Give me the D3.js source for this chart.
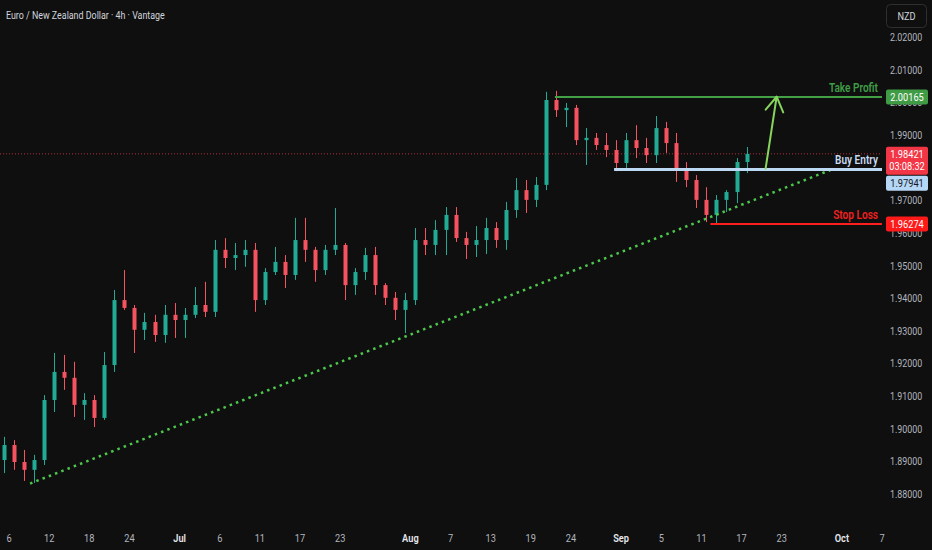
<!DOCTYPE html>
<html>
<head>
<meta charset="utf-8">
<script src="https://cdn.jsdelivr.net/npm/d3@7"></script>
<style>
html, body { margin: 0; padding: 0; background: #0f0f0f; }
svg { display: block; }
text { font-family: Roboto, "Noto Sans", sans-serif; }
</style>
</head>
<body>
<svg id="chart" width="932" height="550"></svg>
<script>
// one candle per trading day, Jun 5 .. Sep 17 2025 (index 0 = Jun 6)
const dates = ["06-05","06-06","06-09","06-10","06-11","06-12","06-13","06-16","06-17","06-18","06-19","06-20","06-23","06-24","06-25","06-26","06-27","06-30",
  "07-01","07-02","07-03","07-04","07-07","07-08","07-09","07-10","07-11","07-14","07-15","07-16","07-17","07-18","07-21","07-22","07-23","07-24","07-25","07-28","07-29","07-30","07-31",
  "08-01","08-04","08-05","08-06","08-07","08-08","08-11","08-12","08-13","08-14","08-15","08-18","08-19","08-20","08-21","08-22","08-25","08-26","08-27","08-28","08-29",
  "09-01","09-02","09-03","09-04","09-05","09-08","09-09","09-10","09-11","09-12","09-15","09-16","09-17"];

const open  = [1.8904,1.8950,1.8898,1.8874,1.8904,1.9088,1.9174,1.9156,1.9073,1.9088,1.9033,1.9195,1.9394,1.9370,1.9303,1.9327,1.9287,1.9349,
  1.9333,1.9349,1.9379,1.9358,1.9548,1.9523,1.9532,1.9548,1.9394,1.9480,1.9511,1.9471,1.9578,1.9548,1.9486,1.9548,1.9563,1.9440,1.9480,1.9532,1.9440,1.9401,1.9364,
  1.9394,1.9578,1.9563,1.9609,1.9655,1.9584,1.9563,1.9578,1.9615,1.9578,1.9670,1.9731,1.9701,1.9747,2.0007,1.9976,1.9983,1.9884,1.9891,1.9869,1.9854,
  1.9814,1.9884,1.9860,1.9838,1.9921,1.9875,1.9792,1.9762,1.9701,1.9655,1.9701,1.9725,1.9817];
const high  = [1.8975,1.8965,1.8935,1.8920,1.9103,1.9232,1.9226,1.9205,1.9109,1.9103,1.9235,1.9425,1.9486,1.9379,1.9355,1.9349,1.9379,1.9385,
  1.9370,1.9434,1.9450,1.9578,1.9584,1.9569,1.9578,1.9569,1.9492,1.9557,1.9532,1.9646,1.9646,1.9557,1.9563,1.9676,1.9569,1.9492,1.9554,1.9557,1.9446,1.9419,1.9416,
  1.9615,1.9615,1.9639,1.9679,1.9679,1.9603,1.9621,1.9646,1.9633,1.9695,1.9768,1.9762,1.9771,2.0032,2.0035,1.9998,1.9992,1.9921,1.9906,1.9906,1.9884,
  1.9906,1.9930,1.9891,1.9958,1.9940,1.9906,1.9817,1.9777,1.9740,1.9716,1.9731,1.9829,1.9863];
const low   = [1.8864,1.8874,1.8840,1.8834,1.8889,1.9051,1.9119,1.9036,1.9027,1.9005,1.9027,1.9174,1.9364,1.9232,1.9272,1.9266,1.9263,1.9278,
  1.9278,1.9339,1.9342,1.9342,1.9492,1.9486,1.9496,1.9358,1.9379,1.9471,1.9431,1.9456,1.9511,1.9450,1.9471,1.9532,1.9394,1.9410,1.9456,1.9410,1.9379,1.9333,1.9293,
  1.9379,1.9532,1.9532,1.9532,1.9572,1.9520,1.9526,1.9535,1.9554,1.9548,1.9646,1.9661,1.9679,1.9731,1.9955,1.9924,1.9869,1.9808,1.9854,1.9832,1.9789,
  1.9799,1.9829,1.9814,1.9814,1.9845,1.9756,1.9740,1.9676,1.9633,1.9627,1.9664,1.9691,1.9783];
const close = [1.8950,1.8898,1.8874,1.8904,1.9088,1.9174,1.9156,1.9073,1.9088,1.9033,1.9195,1.9394,1.9370,1.9303,1.9327,1.9287,1.9349,1.9333,
  1.9349,1.9379,1.9358,1.9548,1.9523,1.9532,1.9548,1.9394,1.9480,1.9511,1.9471,1.9578,1.9548,1.9486,1.9548,1.9563,1.9440,1.9480,1.9532,1.9440,1.9401,1.9364,1.9394,
  1.9578,1.9563,1.9609,1.9655,1.9584,1.9563,1.9578,1.9615,1.9578,1.9670,1.9731,1.9701,1.9747,2.0007,1.9976,1.9983,1.9884,1.9891,1.9869,1.9854,1.9814,
  1.9884,1.9860,1.9838,1.9921,1.9875,1.9792,1.9762,1.9701,1.9655,1.9701,1.9725,1.9817,1.98421];

// time axis (trading-day index) and price axis
const tickDays   = [0, 4, 8, 12, 17, 21, 25, 29, 33, 40, 44, 48, 52, 56, 61, 65, 69, 73, 77, 83, 87];
const tickLabels = ["6","12","18","24","Jul","6","11","17","23","Aug","7","13","19","24","Sep","5","11","17","23","Oct","7"];
// 1.98 sits fully under the live price tag, so it is left out
const priceTicks = [2.02,2.01,2.00,1.99,1.97,1.96,1.95,1.94,1.93,1.92,1.91,1.90,1.89,1.88];

// drawing levels
const levelNames  = ["Take Profit", "Buy Entry", "Stop Loss"];
const levelPrices = [2.00165, 1.97941, 1.96274];
const levelStart  = [54.4, 60.3, 69.9];
const trendDays   = [2.1, 81.9];
const trendPrices = [1.8832, 1.9793];
const arrowDays   = [75.4, 76.5];
const arrowPrices = [1.9797, 2.0017];
const lastPrice = 1.98421;
const countdown = "03:08:32";

const svg = d3.select("#chart");
const W = 932, H = 550, plotRight = 882;
const sx = 0.84;

const x = d3.scaleLinear().domain([0, 87]).range([9, 882]);
const y = d3.scaleLinear().domain([1.88, 2.02]).range([494, 37]);

svg.append("rect").attr("width", W).attr("height", H).attr("fill", "#0f0f0f");

svg.append("defs").append("clipPath").attr("id", "plot")
  .append("rect").attr("x", 0).attr("y", 0).attr("width", plotRight).attr("height", 520);

function label(parent, px, py, txt, size, color, anchor, weight) {
  return parent.append("text")
    .attr("transform", `translate(${px},${py}) scale(${sx},1)`)
    .attr("text-anchor", anchor || "start")
    .attr("font-size", size)
    .attr("font-weight", weight || 400)
    .attr("fill", color)
    .text(txt);
}

const plot = svg.append("g").attr("clip-path", "url(#plot)");

// current price line
plot.append("line")
  .attr("x1", 0).attr("x2", plotRight)
  .attr("y1", y(lastPrice)).attr("y2", y(lastPrice))
  .attr("stroke", "#b3303a").attr("stroke-width", 1).attr("stroke-dasharray", "1,2");

// candles
const idx = d3.range(dates.length);
const cx = i => x(i - 1 + 0.5);
const bull = "#22ab94", bear = "#f7525f";
const col = i => close[i] >= open[i] ? bull : bear;

plot.append("g").selectAll("line")
  .data(idx).join("line")
  .attr("x1", i => Math.round(cx(i)) + 0.5).attr("x2", i => Math.round(cx(i)) + 0.5)
  .attr("y1", i => y(high[i])).attr("y2", i => y(low[i]))
  .attr("stroke", col).attr("stroke-width", 1);

plot.append("g").selectAll("rect")
  .data(idx).join("rect")
  .attr("x", i => Math.round(cx(i)) - 1.5)
  .attr("width", 4)
  .attr("y", i => y(Math.max(open[i], close[i])))
  .attr("height", i => Math.max(1, Math.abs(y(open[i]) - y(close[i]))))
  .attr("fill", col);

// trend line
plot.append("line")
  .attr("x1", x(trendDays[0])).attr("y1", y(trendPrices[0]))
  .attr("x2", x(trendDays[1])).attr("y2", y(trendPrices[1]))
  .attr("stroke", "#4cc94c").attr("stroke-width", 2.5)
  .attr("stroke-dasharray", "2.5,4.2");

// levels
const levelColors = ["#43a047", "#bcd9f4", "#ff1e1e"];
const levelWidths = [2, 3, 2];
const textColors = ["#3f9d47", "#c9dbef", "#f22020"];
levelNames.forEach((n, k) => {
  plot.append("line")
    .attr("x1", x(levelStart[k])).attr("x2", plotRight)
    .attr("y1", y(levelPrices[k])).attr("y2", y(levelPrices[k]))
    .attr("stroke", levelColors[k]).attr("stroke-width", levelWidths[k]);
  label(svg, 878, y(levelPrices[k]) - 5, n, 12, textColors[k], "end", 600);
});

// arrow
const ax1 = x(arrowDays[0]), ay1 = y(arrowPrices[0]);
const ax2 = x(arrowDays[1]), ay2 = y(arrowPrices[1]);
const ang = Math.atan2(ay2 - ay1, ax2 - ax1);
const hl = 17, ha = 0.55;
const arrow = svg.append("g").attr("stroke", "#86d45c").attr("stroke-width", 2)
  .attr("fill", "none").attr("stroke-linecap", "round").attr("stroke-linejoin", "round");
arrow.append("line").attr("x1", ax1).attr("y1", ay1).attr("x2", ax2).attr("y2", ay2);
arrow.append("path").attr("d",
  `M${ax2 - hl * Math.cos(ang - ha)},${ay2 - hl * Math.sin(ang - ha)}L${ax2},${ay2}L${ax2 - hl * Math.cos(ang + ha)},${ay2 - hl * Math.sin(ang + ha)}`);

// title
label(svg, 6, 19, "Euro / New Zealand Dollar · 4h · Vantage", 10.6, "#d1d4dc");

// price axis
const axisG = svg.append("g");
priceTicks.forEach(p => {
  label(axisG, 890, y(p) + 4, p.toFixed(5), 10.6, "#b2b5be");
});

// time axis
tickDays.forEach((d, k) => {
  const isMonth = isNaN(+tickLabels[k]);
  label(svg, x(d), 542, tickLabels[k], 11, isMonth ? "#e6e8ee" : "#b2b5be", "middle", isMonth ? 600 : 400);
});

// NZD box
svg.append("rect").attr("x", 886.5).attr("y", 4.5).attr("width", 40).attr("height", 23).attr("rx", 4)
  .attr("fill", "#0f0f0f").attr("stroke", "#2f2f2f");
label(svg, 906.5, 20, "NZD", 11, "#d1d4dc", "middle");

// price tags
function tag(py, h, fill, lines, txtColor) {
  svg.append("rect").attr("x", 886).attr("y", py).attr("width", 42).attr("height", h).attr("rx", 2).attr("fill", fill);
  lines.forEach((t, k) => label(svg, 907, py + 11.5 + k * 12, t, 11, txtColor, "middle"));
}
tag(y(levelPrices[0]) - 7.5, 15, "#3f9b44", [levelPrices[0].toFixed(5)], "#ffffff");
tag(y(lastPrice) - 7, 28, "#f23645", [lastPrice.toFixed(5), countdown], "#ffffff");
tag(y(lastPrice) + 22, 15, "#b6d6f6", [levelPrices[1].toFixed(5)], "#131722");
tag(y(levelPrices[2]) - 7.5, 15, "#ff1a1a", [levelPrices[2].toFixed(5)], "#ffffff");
</script>
</body>
</html>
